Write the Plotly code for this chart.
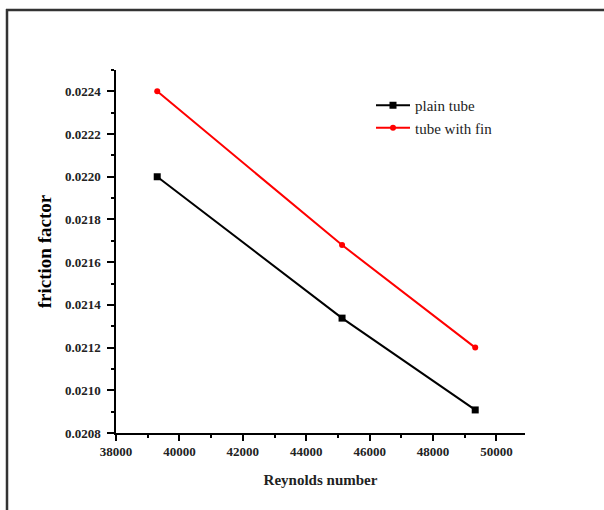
import plotly.graph_objects as go

reynolds = [39300, 45130, 49330]
plain_tube = [0.02200, 0.021338, 0.020908]
tube_with_fin = [0.02240, 0.02168, 0.02120]

L, R, T, B = 116, 79, 70, 77
W, H = 604, 510
pw, ph = W - L - R, H - T - B

def px(x):
    return (x - L) / pw

def py(y):
    return (H - B - y) / ph

fig = go.Figure()
fig.add_trace(go.Scatter(x=reynolds, y=plain_tube, mode="lines+markers", name="plain tube",
                         line=dict(color="black", width=2),
                         marker=dict(symbol="square", size=7, color="black")))
fig.add_trace(go.Scatter(x=reynolds, y=tube_with_fin, mode="lines+markers", name="tube with fin",
                         line=dict(color="red", width=2),
                         marker=dict(symbol="circle", size=6, color="red")))

font = "Liberation Serif"
fig.update_layout(
    width=W, height=H,
    margin=dict(l=L, r=R, t=T, b=B, pad=0),
    paper_bgcolor="white", plot_bgcolor="white",
    showlegend=True,
    legend=dict(x=px(371), y=py(89), xanchor="left", yanchor="top",
                font=dict(family=font, size=15, color="#222"),
                bgcolor="rgba(0,0,0,0)", tracegroupgap=0, itemwidth=34),
    xaxis=dict(range=[38000, 50900], dtick=2000, tick0=38000, tickformat="d",
               showline=True, linecolor="black", linewidth=1.5,
               ticks="outside", ticklen=6, tickwidth=1.5, tickcolor="black",
               minor=dict(dtick=1000, ticks="outside", ticklen=3, tickwidth=1.5, tickcolor="black"),
               showgrid=False, zeroline=False,
               tickfont=dict(family=font, size=13, color="#222", weight="bold"),
               title=dict(text="Reynolds number", standoff=16,
                          font=dict(family=font, size=15, color="#222", weight="bold"))),
    yaxis=dict(range=[0.0208, 0.0225], dtick=0.0002, tick0=0.0208, tickformat=".4f",
               showline=True, linecolor="black", linewidth=1.5,
               ticks="outside", ticklen=7, tickwidth=1.5, tickcolor="black",
               ticklabelstandoff=4,
               minor=dict(dtick=0.0001, ticks="outside", ticklen=3, tickwidth=1.5, tickcolor="black"),
               showgrid=False, zeroline=False,
               tickfont=dict(family=font, size=13, color="#222", weight="bold"),
               title=dict(text="friction factor", standoff=8,
                          font=dict(family=font, size=19, color="black", weight="bold"))),
)

frame = dict(color="#333", width=2.5)
fig.add_shape(type="line", xref="paper", yref="paper", x0=px(6), x1=px(606), y0=py(10), y1=py(10), line=frame)
fig.add_shape(type="line", xref="paper", yref="paper", x0=px(7), x1=px(7), y0=py(9), y1=py(512), line=frame)

fig.write_html("out.html")
